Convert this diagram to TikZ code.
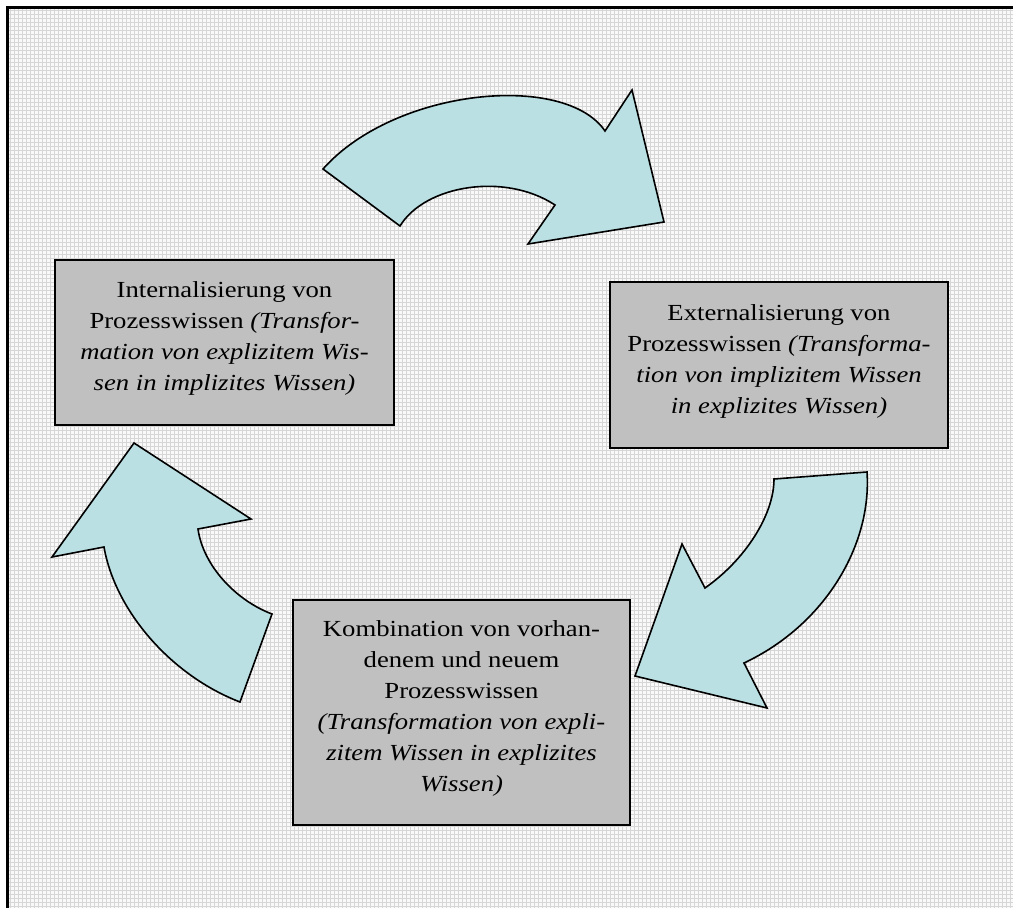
\documentclass[tikz,border=0pt]{standalone}
\usepackage{fontspec}
\setmainfont{Liberation Serif}[FakeStretch=1.16]
\definecolor{boxgray}{RGB}{192,192,192}
\definecolor{arrowcyan}{RGB}{187,224,227}
\definecolor{gridgray}{RGB}{214,214,214}
\tikzset{
  phasebox/.style={draw=black, line width=1.6pt, fill=boxgray, inner sep=0pt,
    align=center, font=\fontsize{23}{31}\selectfont},
  cyclearrow/.style={draw=black, line width=1.6pt, fill=arrowcyan, line join=miter},
  gridline/.style={gridgray, line width=0.8pt},
}
\newcommand{\lowpad}{\rule[-12pt]{0pt}{12pt}}
\begin{document}
\begin{tikzpicture}[x=1pt,y=-1pt]
    \useasboundingbox (0,0) rectangle (1013,908);
    \fill[white] (0,0) rectangle (1013,908);
    % raster background
    \fill[gray!5] (7.5,7.5) rectangle (1013,908);
    \foreach \x in {10,14,...,1010} {
        \draw[gridline] (\x,8) -- (\x,908);
    }
    \foreach \y in {10,14,...,906} {
        \draw[gridline] (8,\y) -- (1013,\y);
    }
    \draw[line width=3pt] (1013,7.5) -- (7.5,7.5) -- (7.5,908);

    % curved arrows
    \draw[cyclearrow] (323,169) .. controls (395,88) and (565,72) .. (605,131)
        -- (632,90) -- (664,222) -- (528,244) -- (555,205)
        .. controls (505,172) and (425,185) .. (400,226) -- cycle;
    \draw[cyclearrow] (867,472) .. controls (872,545) and (825,625) .. (744,663)
        -- (767,708) -- (635,676) -- (682,544) -- (705,588)
        .. controls (745,560) and (774,515) .. (774,479) -- cycle;
    \draw[cyclearrow] (240,702) .. controls (170,675) and (115,610) .. (104,547)
        -- (52,557) -- (134,443) -- (251,519) -- (198,529)
        .. controls (203,565) and (235,600) .. (272,614) -- cycle;

    % phases
    \node[phasebox, minimum width=339pt, minimum height=165pt] (intern) at (224.5,342.5)
        {Internalisierung von\\ Prozesswissen \textit{(Transfor-}\\
         \textit{mation von explizitem Wis-}\\ \textit{sen in implizites Wissen)}\lowpad};
    \node[phasebox, minimum width=338pt, minimum height=166pt] (extern) at (779,365)
        {Externalisierung von\\ Prozesswissen \textit{(Transforma-}\\
         \textit{tion von implizitem Wissen}\\ \textit{in explizites Wissen)}\lowpad};
    \node[phasebox, minimum width=337pt, minimum height=225pt] (kombi) at (461.5,712.5)
        {Kombination von vorhan-\\ denem und neuem\\ Prozesswissen\\
         \textit{(Transformation von expli-}\\ \textit{zitem Wissen in explizites}\\
         \textit{Wissen)}\lowpad};
\end{tikzpicture}
\end{document}
